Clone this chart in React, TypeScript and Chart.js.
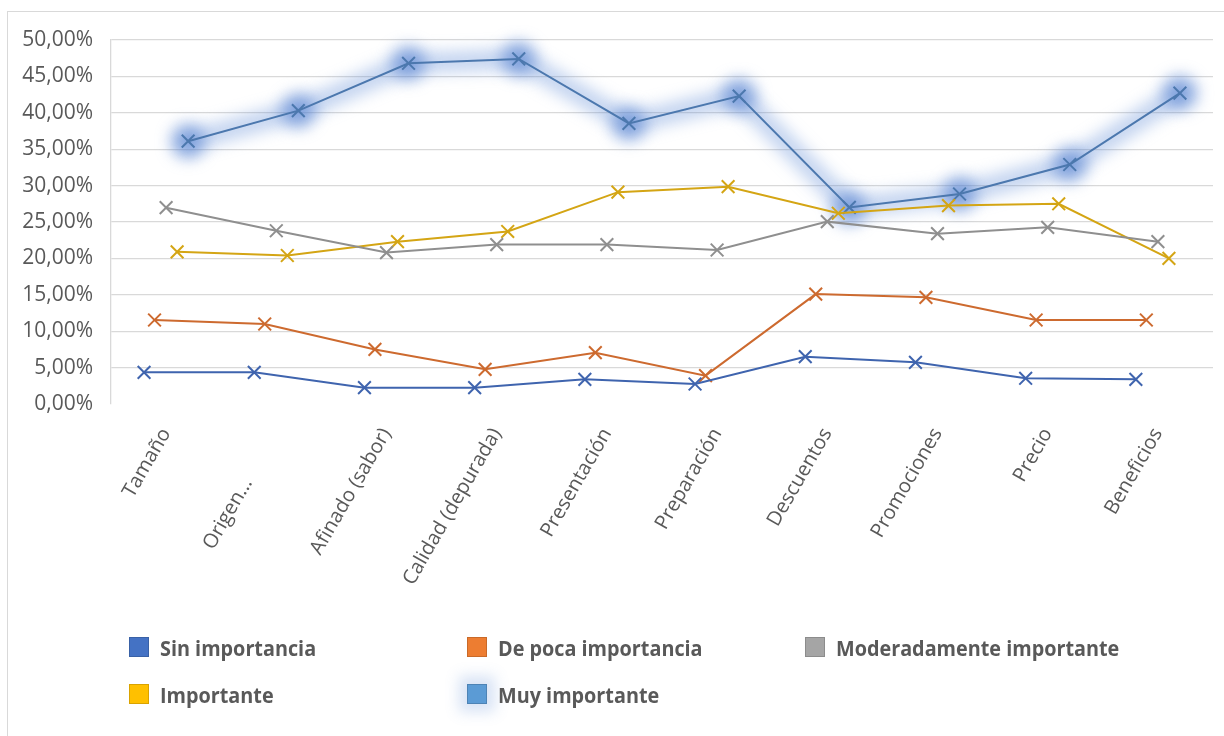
import React, { useEffect, useRef } from 'react';
import { Chart, registerables } from 'chart.js';

Chart.register(...registerables);

// ---------- data ----------
const CATEGORIES = [
  'Tamaño',
  'Origen...',
  'Afinado (sabor)',
  'Calidad (depurada)',
  'Presentación',
  'Preparación',
  'Descuentos',
  'Promociones',
  'Precio',
  'Beneficios',
];

const SERIES_NAMES = [
  'Sin importancia',
  'De poca importancia',
  'Moderadamente importante',
  'Importante',
  'Muy importante',
];

const SIN_IMPORTANCIA = [4.35, 4.35, 2.24, 2.24, 3.39, 2.75, 6.5, 5.72, 3.53, 3.39];
const DE_POCA_IMPORTANCIA = [11.54, 10.99, 7.5, 4.76, 7.05, 3.9, 15.1, 14.65, 11.54, 11.54];
const MODERADAMENTE_IMPORTANTE = [26.97, 23.8, 20.8, 21.9, 21.9, 21.15, 25.05, 23.4, 24.27, 22.3];
const IMPORTANTE = [20.9, 20.4, 22.3, 23.7, 29.1, 29.85, 26.2, 27.25, 27.5, 20.0];
const MUY_IMPORTANTE = [36.1, 40.3, 46.8, 47.4, 38.55, 42.3, 27.0, 28.85, 32.9, 42.7];

const SERIES_VALUES = [
  SIN_IMPORTANCIA,
  DE_POCA_IMPORTANCIA,
  MODERADAMENTE_IMPORTANTE,
  IMPORTANTE,
  MUY_IMPORTANTE,
];

const Y_MIN = 0;
const Y_MAX = 50;
const Y_STEP = 5;

// ---------- style ----------
const LINE_COLORS = ['#3F64AE', '#CD6A2F', '#8F8F8F', '#D4A514', '#4C78AE'];
const LEGEND_COLORS = ['#4472C4', '#ED7D31', '#A5A5A5', '#FFC000', '#5B9BD5'];
const SERIES_SHIFT = [-0.2, -0.105, 0, 0.1, 0.2]; // horizontal offset within a category
const GLOW_SERIES = 4;
const TEXT_COLOR = '#595959';
const GRID_COLOR = '#D9D9D9';
const FONT = "'Open Sans', sans-serif";

const CANVAS_W = 1216;
const CANVAS_H = 600;
const PLOT_LEFT = 103;
const PLOT_TOP = 32;
const PLOT_BOTTOM = 396;
const PLOT_RIGHT_PAD = 6;

const glowPlugin = {
  id: 'seriesGlow',
  beforeDatasetDraw(chart: any, args: any) {
    if (args.index !== GLOW_SERIES) return;
    const pts = args.meta.data;
    const ctx = chart.ctx;
    ctx.save();
    ctx.filter = 'blur(8px)';
    ctx.lineJoin = 'round';
    ctx.lineCap = 'round';
    ctx.strokeStyle = 'rgba(100,142,214,0.4)';
    ctx.lineWidth = 20;
    ctx.beginPath();
    pts.forEach((p: any, i: number) => (i ? ctx.lineTo(p.x, p.y) : ctx.moveTo(p.x, p.y)));
    ctx.stroke();
    ctx.fillStyle = 'rgba(82,128,208,0.62)';
    pts.forEach((p: any) => {
      ctx.beginPath();
      ctx.arc(p.x, p.y, 17, 0, Math.PI * 2);
      ctx.fill();
    });
    ctx.restore();
  },
};

export default function App() {
  const canvasRef = useRef<HTMLCanvasElement | null>(null);

  useEffect(() => {
    if (!canvasRef.current) return;
    const datasets = SERIES_VALUES.map((vals, k) => ({
      label: SERIES_NAMES[k],
      data: vals.map((v, i) => ({ x: i + SERIES_SHIFT[k], y: v })),
      borderColor: LINE_COLORS[k],
      backgroundColor: LINE_COLORS[k],
      borderWidth: 2,
      tension: 0,
      pointStyle: 'crossRot',
      pointRadius: 9,
      pointBorderWidth: 2,
      pointBorderColor: LINE_COLORS[k],
      pointBackgroundColor: LINE_COLORS[k],
    }));

    const chart = new Chart(canvasRef.current, {
      type: 'line',
      data: { datasets } as any,
      plugins: [glowPlugin],
      options: {
        animation: false,
        responsive: false,
        events: [],
        layout: { padding: { top: PLOT_TOP, right: PLOT_RIGHT_PAD, left: 0, bottom: 0 } },
        plugins: { legend: { display: false }, tooltip: { enabled: false } },
        scales: {
          x: {
            type: 'linear',
            min: -0.5,
            max: CATEGORIES.length - 0.5,
            grid: { display: false },
            border: { display: false },
            afterBuildTicks: (scale: any) => {
              scale.ticks = CATEGORIES.map((_, i) => ({ value: i }));
            },
            afterFit: (scale: any) => {
              scale.height = CANVAS_H - PLOT_BOTTOM;
            },
            ticks: {
              autoSkip: false,
              minRotation: 60,
              maxRotation: 60,
              padding: 12,
              color: TEXT_COLOR,
              font: { family: FONT, size: 20 },
              callback: (value: any) => {
                const label = CATEGORIES[Math.round(value)] ?? '';
                return label === 'Origen...' ? label + '           ' : label;
              },
            },
          },
          y: {
            min: Y_MIN,
            max: Y_MAX,
            grid: {
              drawTicks: false,
              lineWidth: 1.3,
              color: (c: any) => (c.tick && c.tick.value === 0 ? 'rgba(0,0,0,0)' : GRID_COLOR),
            },
            border: { display: true, color: GRID_COLOR, width: 1.3 },
            afterFit: (scale: any) => {
              scale.width = PLOT_LEFT;
            },
            ticks: {
              stepSize: Y_STEP,
              padding: 18,
              color: TEXT_COLOR,
              font: { family: FONT, size: 21 },
              callback: (value: any) => Number(value).toFixed(2).replace('.', ',') + '%',
            },
          },
        },
      } as any,
    });
    return () => chart.destroy();
  }, []);

  return (
    <div style={{ position: 'relative', width: 1216, height: 720, fontFamily: FONT }}>
      <div
        style={{
          position: 'fixed',
          left: 7,
          top: 11,
          width: 1400,
          height: 900,
          borderTop: '1px solid #D9D9D9',
          borderLeft: '1px solid #D9D9D9',
          pointerEvents: 'none',
        }}
      />
      <canvas
        ref={canvasRef}
        width={CANVAS_W}
        height={CANVAS_H}
        style={{ position: 'absolute', left: 0, top: 0, width: CANVAS_W, height: CANVAS_H }}
      />
      {SERIES_NAMES.map((name, k) => {
        const col = k % 3;
        const row = Math.floor(k / 3);
        return (
          <div
            key={name}
            style={{
              position: 'absolute',
              left: 121 + col * 338,
              top: 629 + row * 47,
              height: 20,
              display: 'flex',
              alignItems: 'center',
              whiteSpace: 'nowrap',
            }}
          >
            <span
              style={{
                display: 'inline-block',
                width: 20,
                height: 20,
                boxSizing: 'border-box',
                background: LEGEND_COLORS[k],
                border: '1px solid rgba(0,0,0,0.15)',
                boxShadow: k === GLOW_SERIES ? '0 0 14px 8px rgba(100,142,214,0.25)' : 'none',
              }}
            />
            <span
              style={{
                display: 'inline-block',
                marginLeft: 11,
                fontFamily: FONT,
                fontWeight: 700,
                fontSize: 22,
                lineHeight: '20px',
                color: TEXT_COLOR,
                transform: 'scaleX(0.9)',
                transformOrigin: 'left center',
              }}
            >
              {name}
            </span>
          </div>
        );
      })}
    </div>
  );
}
